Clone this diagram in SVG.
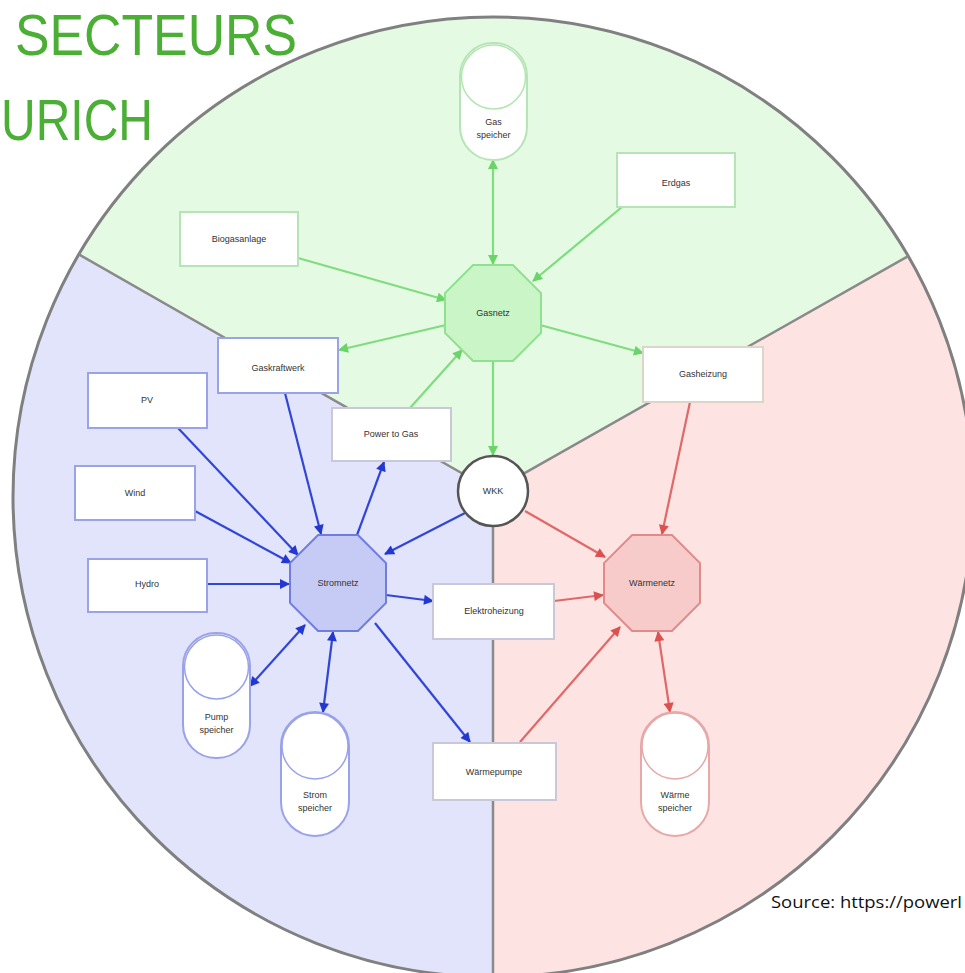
<svg xmlns="http://www.w3.org/2000/svg" width="965" height="973" viewBox="0 0 965 973">
<style>
.lbl{font-family:"Liberation Sans",Arial,sans-serif;font-size:9px;fill:#333;text-anchor:middle}
.box{fill:#fff;stroke-width:2}
.g{stroke:#b5e5b5}
.b{stroke:#9aa2e8}
.r{stroke:#e6a8a8}
.gl{stroke:#7fdc7f;stroke-width:2.2;fill:none}
.bl{stroke:#3146d6;stroke-width:2.2;fill:none}
.rl{stroke:#e06868;stroke-width:2.2;fill:none}
.title{font-family:"Liberation Sans",Arial,sans-serif;font-size:57px;fill:#4caf35}
</style>
<defs>
<marker id="ag" viewBox="0 0 10 10" refX="9" refY="5" markerWidth="11" markerHeight="10" markerUnits="userSpaceOnUse" orient="auto-start-reverse"><path d="M0,0 L10,5 L0,10 z" fill="#6ad46a"/></marker>
<marker id="ab" viewBox="0 0 10 10" refX="9" refY="5" markerWidth="11" markerHeight="10" markerUnits="userSpaceOnUse" orient="auto-start-reverse"><path d="M0,0 L10,5 L0,10 z" fill="#2238d0"/></marker>
<marker id="ar" viewBox="0 0 10 10" refX="9" refY="5" markerWidth="11" markerHeight="10" markerUnits="userSpaceOnUse" orient="auto-start-reverse"><path d="M0,0 L10,5 L0,10 z" fill="#dc5050"/></marker>
</defs>
<rect width="965" height="973" fill="#fff"/>
<g id="sectors">
<path d="M493,491 L78.9,254.4 A480,480 0 0,1 908.2,256.1 Z" fill="#e5fae3"/>
<path d="M493,491 L493,977 A480,480 0 0,1 78.9,254.4 Z" fill="#e1e4fb"/>
<path d="M493,491 L908.2,256.1 A480,480 0 0,1 493,977 Z" fill="#fde4e3"/>
<circle cx="493" cy="497" r="480" fill="none" stroke="#808080" stroke-width="3"/>
<path d="M493,491 L78.9,254.4 M493,491 L908.2,256.1 M493,491 L493,977" stroke="#8a8a8a" stroke-width="2.5" fill="none"/>
</g>
<g id="connectors">
<line class="gl" x1="493" y1="160" x2="493" y2="264" marker-start="url(#ag)" marker-end="url(#ag)"/>
<line class="gl" x1="622" y1="207" x2="533" y2="281" marker-end="url(#ag)"/>
<line class="gl" x1="298" y1="258" x2="446" y2="300" marker-end="url(#ag)"/>
<line class="gl" x1="446" y1="325" x2="339" y2="350" marker-end="url(#ag)"/>
<line class="gl" x1="540" y1="325" x2="643" y2="353" marker-end="url(#ag)"/>
<line class="gl" x1="410" y1="408" x2="462" y2="350" marker-end="url(#ag)"/>
<line class="gl" x1="493" y1="362" x2="493" y2="455" marker-end="url(#ag)"/>
<line class="bl" x1="285" y1="393" x2="321" y2="534" marker-end="url(#ab)"/>
<line class="bl" x1="178" y1="428" x2="298" y2="555" marker-end="url(#ab)"/>
<line class="bl" x1="357" y1="535" x2="384" y2="462" marker-end="url(#ab)"/>
<line class="bl" x1="195" y1="511" x2="291" y2="563" marker-end="url(#ab)"/>
<line class="bl" x1="207" y1="584" x2="289" y2="584" marker-end="url(#ab)"/>
<line class="bl" x1="465" y1="513" x2="385" y2="554" marker-end="url(#ab)"/>
<line class="bl" x1="386" y1="595" x2="433" y2="601" marker-end="url(#ab)"/>
<line class="bl" x1="305" y1="625" x2="250" y2="686" marker-start="url(#ab)" marker-end="url(#ab)"/>
<line class="bl" x1="333" y1="632" x2="323" y2="712" marker-start="url(#ab)" marker-end="url(#ab)"/>
<line class="bl" x1="375" y1="623" x2="470" y2="742" marker-end="url(#ab)"/>
<line class="rl" x1="690" y1="402" x2="662" y2="534" marker-end="url(#ar)"/>
<line class="rl" x1="525" y1="511" x2="605" y2="557" marker-end="url(#ar)"/>
<line class="rl" x1="554" y1="601" x2="603" y2="595" marker-end="url(#ar)"/>
<line class="rl" x1="520" y1="742" x2="620" y2="627" marker-end="url(#ar)"/>
<line class="rl" x1="658" y1="632" x2="670" y2="712" marker-start="url(#ar)" marker-end="url(#ar)"/>
</g>
<g id="gasspeicher"><rect class="box g" x="460" y="43" width="67" height="117" rx="33"/><circle cx="493.5" cy="77" r="32" fill="#fff" stroke="#b5e5b5" stroke-width="1.5"/><text class="lbl" x="493.5" y="125">Gas</text><text class="lbl" x="493.5" y="138">speicher</text></g>
<g id="erdgas"><rect class="box g" x="617" y="153" width="118" height="54"/><text class="lbl" x="676" y="186">Erdgas</text></g>
<g id="biogasanlage"><rect class="box g" x="180" y="212" width="118" height="54"/><text class="lbl" x="239" y="242">Biogasanlage</text></g>
<g id="gasnetz"><polygon points="512.9,265 541,293.1 541,332.9 512.9,361 473.1,361 445,332.9 445,293.1 473.1,265" fill="#c9f5c7" stroke="#8fe08f" stroke-width="2"/><text class="lbl" x="493" y="316">Gasnetz</text></g>
<g id="gaskraftwerk"><rect class="box b" x="218" y="338" width="120" height="55"/><text class="lbl" x="278" y="371">Gaskraftwerk</text></g>
<g id="gasheizung"><rect class="box r" x="643" y="347" width="120" height="55" style="stroke:#ddd6c8"/><text class="lbl" x="703" y="377">Gasheizung</text></g>
<g id="pv"><rect class="box b" x="88" y="373" width="119" height="55"/><text class="lbl" x="147" y="403">PV</text></g>
<g id="powertogas"><rect class="box b" x="332" y="408" width="119" height="53" style="stroke:#c8c8d8"/><text class="lbl" x="391" y="437">Power to Gas</text></g>
<g id="wkk"><circle cx="493" cy="491" r="35" fill="#fff" stroke="#555" stroke-width="2.5"/><text class="lbl" x="493" y="494">WKK</text></g>
<g id="wind"><rect class="box b" x="75" y="466" width="120" height="54"/><text class="lbl" x="135" y="496">Wind</text></g>
<g id="hydro"><rect class="box b" x="88" y="559" width="119" height="53"/><text class="lbl" x="147" y="587">Hydro</text></g>
<g id="stromnetz"><polygon points="357.9,535 386,563.1 386,602.9 357.9,631 318.1,631 290,602.9 290,563.1 318.1,535" fill="#c6cbf5" stroke="#6f7ce0" stroke-width="2"/><text class="lbl" x="338" y="586">Stromnetz</text></g>
<g id="elektroheizung"><rect class="box b" x="433" y="584" width="121" height="55" style="stroke:#c8c8d8"/><text class="lbl" x="494" y="614">Elektroheizung</text></g>
<g id="waermenetz"><polygon points="671.9,535 700,563.1 700,602.9 671.9,631 632.1,631 604,602.9 604,563.1 632.1,535" fill="#f8cbcb" stroke="#e08a8a" stroke-width="2"/><text class="lbl" x="652" y="586">Wärmenetz</text></g>
<g id="pumpspeicher"><rect class="box b" x="183" y="633" width="67" height="125" rx="33"/><circle cx="216.5" cy="667" r="32" fill="#fff" stroke="#9aa2e8" stroke-width="1.5"/><text class="lbl" x="216.5" y="720">Pump</text><text class="lbl" x="216.5" y="733">speicher</text></g>
<g id="stromspeicher"><rect class="box b" x="281" y="712" width="68" height="124" rx="34"/><circle cx="315" cy="746" r="33" fill="#fff" stroke="#9aa2e8" stroke-width="1.5"/><text class="lbl" x="315" y="798">Strom</text><text class="lbl" x="315" y="811">speicher</text></g>
<g id="waermepumpe"><rect class="box b" x="433" y="743" width="123" height="57" style="stroke:#c8c8d8"/><text class="lbl" x="494" y="775">Wärmepumpe</text></g>
<g id="waermespeicher"><rect class="box r" x="641" y="712" width="68" height="124" rx="34"/><circle cx="675" cy="746" r="33" fill="#fff" stroke="#e6a8a8" stroke-width="1.5"/><text class="lbl" x="675" y="798">Wärme</text><text class="lbl" x="675" y="811">speicher</text></g>
<g id="titles">
<text class="title" x="15" y="55" textLength="282" lengthAdjust="spacingAndGlyphs">SECTEURS</text>
<text class="title" x="1" y="140" textLength="152" lengthAdjust="spacingAndGlyphs">URICH</text>
<text x="771" y="908" font-family="'Open Sans','Liberation Sans',sans-serif" font-size="16" fill="#111" textLength="191" lengthAdjust="spacingAndGlyphs">Source: https://powerl</text>
</g>
</svg>
